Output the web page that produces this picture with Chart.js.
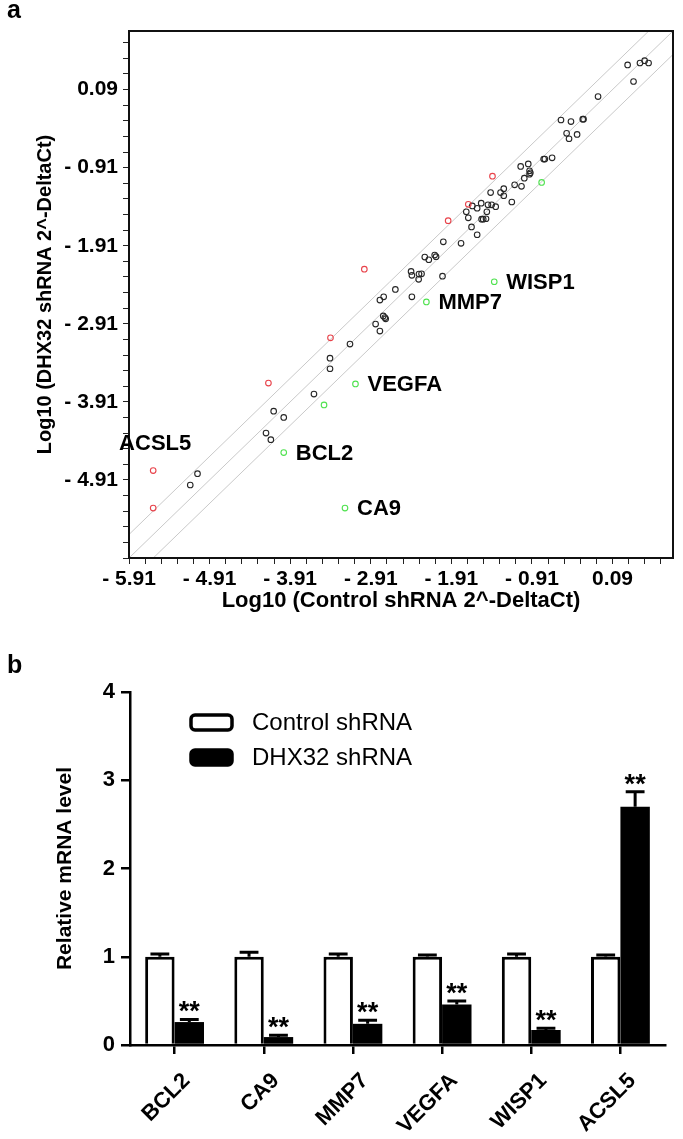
<!DOCTYPE html>
<html>
<head>
<meta charset="utf-8">
<script src="https://cdn.jsdelivr.net/npm/chart.js@4.4.1/dist/chart.umd.min.js"></script>
<style>
  body { margin: 0; background: #fff; }
  #page { position: relative; width: 683px; height: 1139px; overflow: hidden; font-family: "Liberation Sans", Arial, sans-serif; }
  canvas { position: absolute; left: 0; }
  .panel { position: absolute; left: 7px; font-weight: bold; font-size: 25px; line-height: 25px; }
</style>
</head>
<body>
<div id="page">
  <canvas id="scatter" width="683" height="630" style="top:0"></canvas>
  <canvas id="bars" width="683" height="509" style="top:630px"></canvas>
  <div class="panel" style="top:-3px">a</div>
  <div class="panel" style="top:652px">b</div>
</div>
<script>
const FONT = '"Liberation Sans", Arial, sans-serif';

// ---- panel a: scatter ----
const axisMin = -5.91;
const axisMax = 0.84;
const xMajorTicks = [-5.91, -4.91, -3.91, -2.91, -1.91, -0.91, 0.09];
const yMajorTicks = [-4.91, -3.91, -2.91, -1.91, -0.91, 0.09];
const diagonalOffsets = [0.301, 0, -0.301];

const blackX = [-5.06, -5.15, -4.21, -4.15, -4.115, -3.99, -3.615, -3.416, -3.416, -3.168,
  -2.85, -2.797, -2.755, -2.725, -2.735, -2.797, -2.75, -2.605, -2.40, -2.41,
  -2.40, -2.312, -2.28, -2.316, -2.24, -2.19, -2.117, -2.10, -2.01, -2.02,
  -1.79, -1.725, -1.70, -1.65, -1.59, -1.54, -1.66, -1.59, -1.535, -1.515,
  -1.48, -1.47, -1.456, -1.41, -1.36, -1.423, -1.30, -1.26, -1.26, -1.16,
  -1.125, -1.04, -1.05, -0.956, -1.005, -0.94, -0.93, -0.94, -0.765, -0.75,
  -0.66, -0.55, -0.426, -0.28, -0.27, -0.48, -0.45, -0.35, -0.09, 0.277,
  0.35, 0.43, 0.488, 0.537];
const blackY = [-4.83, -4.975, -4.31, -4.395, -4.03, -4.11, -3.81, -3.486, -3.35, -3.17,
  -2.914, -3.003, -2.81, -2.846, -2.83, -2.606, -2.565, -2.47, -2.565, -2.24,
  -2.29, -2.274, -2.27, -2.34, -2.056, -2.09, -2.03, -2.05, -1.86, -2.30,
  -1.88, -1.475, -1.553, -1.40, -1.43, -1.365, -1.67, -1.77, -1.57, -1.57,
  -1.565, -1.475, -1.386, -1.386, -1.41, -1.23, -1.23, -1.18, -1.27, -1.35,
  -1.13, -1.15, -0.895, -0.862, -1.045, -0.95, -0.977, -0.995, -0.80, -0.80,
  -0.785, -0.30, -0.32, -0.29, -0.29, -0.47, -0.54, -0.485, 0.0, 0.406,
  0.193, 0.43, 0.46, 0.43];

const redX = [-5.61, -5.61, -4.18, -3.41, -2.99, -1.95, -1.70, -1.40];
const redY = [-4.79, -5.27, -3.67, -3.09, -2.21, -1.59, -1.38, -1.02];
const redNames = ['ACSL5', '', '', '', '', '', '', ''];

const greenX = [-3.99, -3.49, -3.10, -3.23, -2.22, -1.378, -0.79];
const greenY = [-4.56, -3.95, -3.68, -5.27, -2.63, -2.372, -1.10];
const greenNames = ['BCL2', '', 'VEGFA', 'CA9', 'MMP7', 'WISP1', ''];

const toPoints = (xs, ys) => xs.map((x, i) => ({ x: x, y: ys[i] }));

const diagonalSets = diagonalOffsets.map(d => ({
  type: 'line',
  data: [{ x: axisMin, y: axisMin + d }, { x: axisMax, y: axisMax + d }],
  borderColor: '#c9c9c9',
  borderWidth: 1,
  pointRadius: 0,
  order: 5
}));

const pointStyle = color => ({
  pointRadius: 2.8,
  pointBorderWidth: 1.1,
  borderColor: color,
  backgroundColor: 'rgba(0,0,0,0)',
  pointBackgroundColor: 'rgba(0,0,0,0)'
});

const buildTicks = scale => {
  const ticks = [];
  for (let k = 0; axisMin + 0.2 * k <= axisMax + 1e-9; k++) {
    ticks.push({ value: +(axisMin + 0.2 * k).toFixed(2) });
  }
  scale.ticks = ticks;
};
const tickText = majors => v => {
  const m = majors.find(t => Math.abs(t - v) < 1e-6);
  if (m === undefined) return '';
  return m < 0 ? '- ' + Math.abs(m).toFixed(2) : m.toFixed(2);
};

const frameAndNames = {
  id: 'frameAndNames',
  afterDraw(chart) {
    const { ctx, chartArea: a } = chart;
    ctx.save();
    ctx.strokeStyle = '#111';
    ctx.lineWidth = 2;
    ctx.strokeRect(a.left, a.top, a.right - a.left, a.bottom - a.top);
    ctx.fillStyle = '#000';
    ctx.font = 'bold 22px ' + FONT;
    chart.data.datasets.forEach((ds, di) => {
      if (!ds.names) return;
      const meta = chart.getDatasetMeta(di);
      ds.names.forEach((name, i) => {
        if (!name) return;
        const el = meta.data[i];
        ctx.textBaseline = 'middle';
        if (ds.namesAbove) {
          ctx.textAlign = 'center';
          ctx.fillText(name, el.x + 2, el.y - 27);
        } else {
          ctx.textAlign = 'left';
          ctx.fillText(name, el.x + 12, el.y + 1);
        }
      });
    });
    ctx.restore();
  }
};

new Chart(document.getElementById('scatter'), {
  type: 'scatter',
  data: {
    datasets: [
      ...diagonalSets,
      { data: toPoints(blackX, blackY), ...pointStyle('#262626'), order: 3 },
      { data: toPoints(greenX, greenY), names: greenNames, ...pointStyle('#4fe24f'), order: 2 },
      { data: toPoints(redX, redY), names: redNames, namesAbove: true, ...pointStyle('#e8424a'), order: 1 }
    ]
  },
  options: {
    responsive: false,
    animation: false,
    layout: { padding: { top: 31, right: 10, left: 0, bottom: 0 } },
    plugins: { legend: { display: false }, tooltip: { enabled: false } },
    scales: {
      x: {
        type: 'linear', min: axisMin, max: axisMax,
        afterBuildTicks: buildTicks,
        afterFit: s => { s.height = 72; },
        grid: { drawOnChartArea: false, tickLength: 6, color: '#222', lineWidth: 1 },
        border: { color: '#111', width: 2 },
        ticks: { autoSkip: false, maxRotation: 0, callback: tickText(xMajorTicks), color: '#000', padding: 3,
          font: { family: FONT, size: 21, weight: 'bold' } },
        title: { display: true, text: 'Log10 (Control shRNA 2^-DeltaCt)', color: '#000',
          font: { family: FONT, size: 22, weight: 'bold' }, padding: { top: 0, bottom: 16 } }
      },
      y: {
        type: 'linear', min: axisMin, max: axisMax,
        afterBuildTicks: buildTicks,
        afterFit: s => { s.width = 129; },
        grid: { drawOnChartArea: false, tickLength: 6, color: '#222', lineWidth: 1 },
        border: { color: '#111', width: 2 },
        ticks: { autoSkip: false, callback: tickText(yMajorTicks), color: '#000', padding: 5,
          font: { family: FONT, size: 21, weight: 'bold' } },
        title: { display: true, text: 'Log10 (DHX32 shRNA 2^-DeltaCt)', color: '#000',
          font: { family: FONT, size: 20, weight: 'bold' }, padding: { top: 33, bottom: 0 } }
      }
    }
  },
  plugins: [frameAndNames]
});

// ---- panel b: bars ----
const genes = ['BCL2', 'CA9', 'MMP7', 'VEGFA', 'WISP1', 'ACSL5'];
const controlMean = [1, 1, 1, 1, 1, 1];
const controlErr = [0.03, 0.05, 0.03, 0.02, 0.03, 0.02];
const dhx32Mean = [0.26, 0.09, 0.24, 0.46, 0.17, 2.70];
const dhx32Err = [0.03, 0.02, 0.04, 0.04, 0.02, 0.17];
const sigMarks = ['**', '**', '**', '**', '**', '**'];

const errorBars = {
  id: 'errorBars',
  afterDatasetsDraw(chart) {
    const { ctx } = chart;
    const y = chart.scales.y;
    ctx.save();
    ctx.strokeStyle = '#000';
    ctx.fillStyle = '#000';
    ctx.lineWidth = 3;
    chart.data.datasets.forEach((ds, di) => {
      const meta = chart.getDatasetMeta(di);
      meta.data.forEach((bar, i) => {
        const topY = y.getPixelForValue(ds.data[i] + ds.errors[i]);
        const cap = bar.width * 0.32;
        ctx.beginPath();
        ctx.moveTo(bar.x, bar.y);
        ctx.lineTo(bar.x, topY);
        ctx.moveTo(bar.x - cap, topY);
        ctx.lineTo(bar.x + cap, topY);
        ctx.stroke();
        if (ds.marks && ds.marks[i]) {
          ctx.font = 'bold 27px ' + FONT;
          ctx.textAlign = 'center';
          ctx.textBaseline = 'alphabetic';
          ctx.fillText(ds.marks[i], bar.x, topY + 1);
        }
      });
    });
    ctx.restore();
  }
};

const boxLegend = {
  id: 'boxLegend',
  afterDraw(chart) {
    const { ctx, chartArea: a } = chart;
    ctx.save();
    ctx.font = '24px ' + FONT;
    ctx.textBaseline = 'middle';
    ctx.textAlign = 'left';
    chart.data.datasets.forEach((ds, i) => {
      const bx = a.left + 61;
      const by = a.top + 23 + i * 35;
      ctx.beginPath();
      ctx.roundRect(bx, by, 41, 15, 4);
      ctx.fillStyle = ds.backgroundColor;
      ctx.fill();
      ctx.lineWidth = 3.5;
      ctx.strokeStyle = '#000';
      ctx.stroke();
      ctx.fillStyle = '#000';
      ctx.fillText(ds.label, bx + 61, by + 8);
    });
    ctx.restore();
  }
};

new Chart(document.getElementById('bars'), {
  type: 'bar',
  data: {
    labels: genes,
    datasets: [
      { label: 'Control shRNA', data: controlMean, errors: controlErr,
        backgroundColor: '#ffffff', borderColor: '#000', borderWidth: 3 },
      { label: 'DHX32 shRNA', data: dhx32Mean, errors: dhx32Err, marks: sigMarks,
        backgroundColor: '#000000', borderColor: '#000', borderWidth: 0 }
    ]
  },
  options: {
    responsive: false,
    animation: false,
    layout: { padding: { top: 62, right: 18, left: 0, bottom: 0 } },
    plugins: { legend: { display: false }, tooltip: { enabled: false } },
    datasets: { bar: { categoryPercentage: 0.66, barPercentage: 1.0 } },
    scales: {
      x: {
        afterFit: s => { s.height = 94; },
        grid: { offset: false, drawOnChartArea: false, tickLength: 9, color: '#000', lineWidth: 2.5 },
        border: { color: '#000', width: 2.5 },
        ticks: { color: '#000', minRotation: 45, maxRotation: 45, padding: 14, labelOffset: 12,
          font: { family: FONT, size: 22, weight: 'bold' } }
      },
      y: {
        min: 0, max: 4,
        afterFit: s => { s.width = 130; },
        grid: { drawOnChartArea: false, tickLength: 9, color: '#000', lineWidth: 2.5 },
        border: { color: '#000', width: 2.5 },
        ticks: { stepSize: 1, color: '#000', padding: 6,
          font: { family: FONT, size: 22, weight: 'bold' } },
        title: { display: true, text: 'Relative mRNA level', color: '#000',
          font: { family: FONT, size: 21, weight: 'bold' }, padding: { top: 53, bottom: 0 } }
      }
    }
  },
  plugins: [errorBars, boxLegend]
});
</script>
</body>
</html>
